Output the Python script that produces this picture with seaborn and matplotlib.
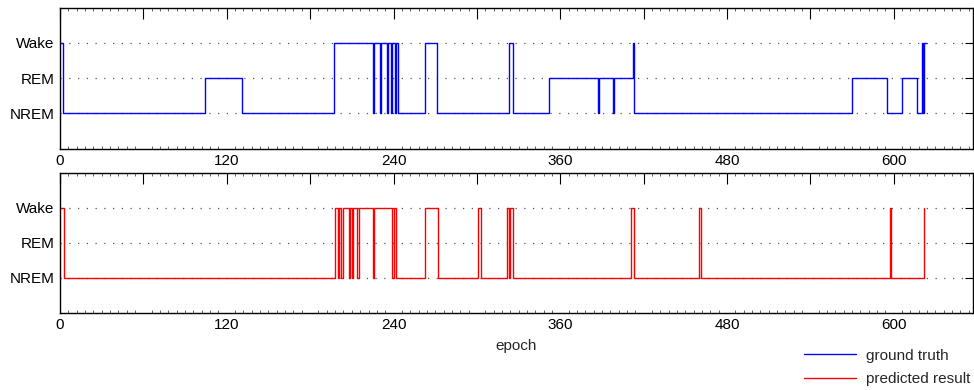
import matplotlib
matplotlib.use("Agg")
import matplotlib.pyplot as plt
import seaborn as sns
import pandas as pd
from matplotlib.ticker import MultipleLocator, FuncFormatter

# ---- data: change points (epoch where a stage starts) and stage codes ----
# stage codes: 1 = NREM, 2 = REM, 3 = Wake
stage_names = ["NREM", "REM", "Wake"]
stage_values = [1, 2, 3]

gt_epoch = [0, 2, 104, 131, 197, 225, 226, 230, 231, 235, 236, 238, 239, 241,
            242, 243, 263, 271, 323, 326, 352, 387, 388, 398, 399, 412, 413,
            570, 595, 606, 617, 620, 621, 622, 623]
gt_stage = [3, 1, 2, 1, 3, 1, 3, 1, 3, 1, 3, 1, 3, 1,
            3, 1, 3, 1, 3, 1, 2, 1, 2, 1, 2, 3, 1,
            2, 1, 2, 1, 3, 1, 3, 3]

pr_epoch = [0, 3, 198, 200, 201, 202, 204, 208, 209, 210, 211, 214, 215, 225,
            226, 239, 240, 242, 263, 272, 301, 303, 322, 323, 324, 326,
            411, 413, 460, 461, 597, 598, 622]
pr_stage = [3, 1, 3, 1, 3, 1, 3, 1, 3, 1, 3, 1, 3, 1,
            3, 1, 3, 1, 3, 1, 3, 1, 3, 1, 3, 1,
            3, 1, 3, 1, 3, 1, 3]

x_major = [0, 60, 120, 180, 240, 300, 360, 420, 480, 540, 600]
x_labeled = [0, 120, 240, 360, 480, 600]
x_max = 657

gt_df = pd.DataFrame({"epoch": gt_epoch, "stage": gt_stage})
pr_df = pd.DataFrame({"epoch": pr_epoch, "stage": pr_stage})

sns.set_theme(style="white")
plt.rcParams["font.family"] = ["Liberation Sans", "DejaVu Sans"]

W, H = 974, 390
fig = plt.figure(figsize=(W / 100, H / 100), dpi=100)

def px_axes(left, top, right, bottom):
    return fig.add_axes([left / W, 1 - bottom / H, (right - left) / W, (bottom - top) / H])

ax1 = px_axes(60, 7.5, 973, 148.5)
ax2 = px_axes(60, 172.5, 973, 312.5)

sns.lineplot(data=gt_df, x="epoch", y="stage", ax=ax1, color="#0000ff", lw=1.0,
             drawstyle="steps-post", sort=False, estimator=None, label="ground truth",
             legend=False)
sns.lineplot(data=pr_df, x="epoch", y="stage", ax=ax2, color="#ff0000", lw=1.0,
             drawstyle="steps-post", sort=False, estimator=None, label="predicted result",
             legend=False)

fmt = FuncFormatter(lambda v, p: f"{int(round(v))}" if int(round(v)) in x_labeled else "")
for ax in (ax1, ax2):
    ax.set_xlim(0, x_max)
    ax.set_ylim(0, 4)
    ax.set_xticks(x_major)
    ax.xaxis.set_major_formatter(fmt)
    ax.xaxis.set_minor_locator(MultipleLocator(6))
    ax.set_yticks(stage_values)
    ax.set_yticklabels(stage_names)
    ax.tick_params(axis="both", which="major", direction="in", length=8, width=0.8,
                   top=True, right=True, labelsize=11, colors="black", pad=4)
    ax.tick_params(axis="y", which="major", length=6)
    ax.tick_params(axis="x", which="minor", direction="in", length=2, width=0.5,
                   top=True, bottom=True)
    ax.yaxis.grid(True, linestyle=(0, (1, 6)), color="#555555", lw=0.9)
    ax.xaxis.grid(False)
    for s in ax.spines.values():
        s.set_color("black")
        s.set_linewidth(1.0)
    ax.set_ylabel("")
    ax.set_xlabel("")

ax2.set_xlabel("epoch", fontsize=11, labelpad=5)

h1, l1 = ax1.get_legend_handles_labels()
h2, l2 = ax2.get_legend_handles_labels()
fig.legend(h1 + h2, l1 + l2, loc="upper left", bbox_to_anchor=(790 / W, 1 - 335 / H),
           frameon=False, fontsize=11, handlelength=3.4, labelspacing=0.6,
           handletextpad=0.65)

fig.savefig("out.png", dpi=100)
